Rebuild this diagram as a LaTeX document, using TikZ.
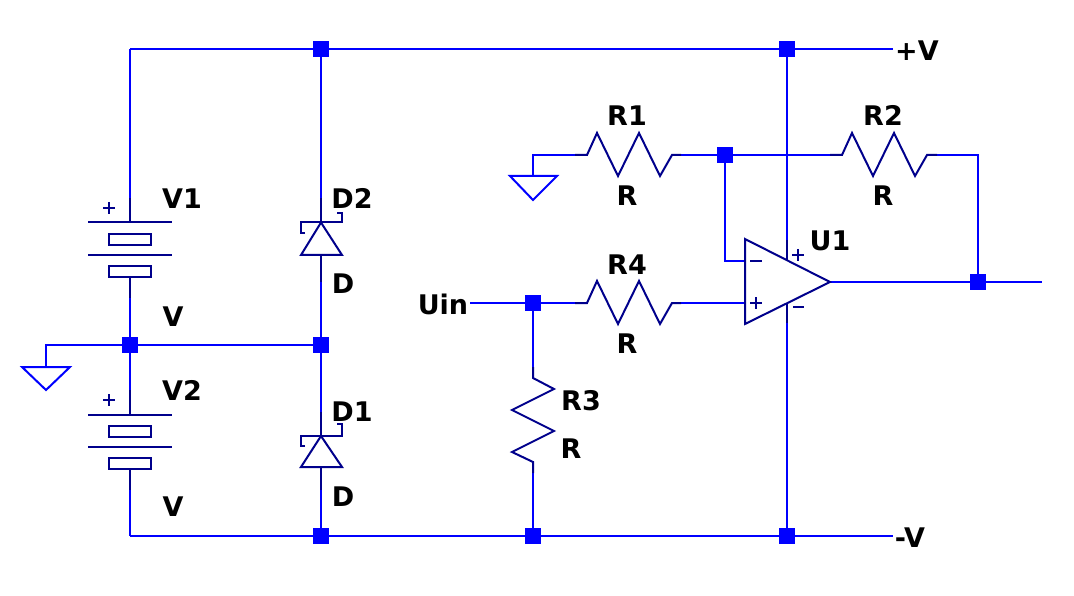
\documentclass[tikz,border=0pt]{standalone}
\usepackage{fontspec}
\setmainfont{DejaVu Sans}
\definecolor{wireblue}{RGB}{0,0,255}
\definecolor{partnavy}{RGB}{0,0,140}
\tikzset{
  wire/.style={draw=wireblue,line width=2pt,line cap=butt,line join=miter},
  part/.style={draw=partnavy,line width=2pt,line join=miter,line cap=butt},
  thin part/.style={draw=partnavy,line width=1.6pt},
  junction/.style={fill=wireblue,draw=none,minimum size=16pt,inner sep=0pt,outer sep=0pt,rectangle},
  lbl/.style={font=\bfseries\fontsize{27}{27}\selectfont,text=black,inner sep=0pt,text height=20pt,text depth=0pt}
}
\begin{document}
\begin{tikzpicture}[x=1pt,y=-1pt]
\useasboundingbox (0,0) rectangle (1074,596);
\fill[white] (0,0) rectangle (1074,596);
% junctions
\node[junction] (J1) at (321,49) {};
\node[junction] (J2) at (787,49) {};
\node[junction] (J3) at (130,345) {};
\node[junction] (J4) at (321,345) {};
\node[junction] (J5) at (533,303) {};
\node[junction] (J6) at (725,155) {};
\node[junction] (J7) at (978,282) {};
\node[junction] (J8) at (321,536) {};
\node[junction] (J9) at (533,536) {};
\node[junction] (J10) at (787,536) {};
% free ends and corners
\coordinate (TL) at (130,49);
\coordinate (BL) at (130,536);
\coordinate (VP) at (893,49);
\coordinate (VM) at (893,536);
\coordinate (OUT) at (1042,282);
\coordinate (UI) at (470,303);
\coordinate (G1) at (46,367);
\coordinate (G2) at (533,176);
\coordinate (V1t) at (130,198);
\coordinate (V1b) at (130,298);
\coordinate (V2t) at (130,390);
\coordinate (V2b) at (130,490);
\coordinate (D2t) at (321,198);
\coordinate (D2b) at (321,282);
\coordinate (D1t) at (321,412);
\coordinate (D1b) at (321,490);
\coordinate (R1l) at (575,155);
\coordinate (R1r) at (681,155);
\coordinate (R2l) at (830,155);
\coordinate (R2r) at (937,155);
\coordinate (R4l) at (575,303);
\coordinate (R4r) at (681,303);
\coordinate (R3t) at (533,367);
\coordinate (R3b) at (533,473);
\coordinate (Um) at (745,261);
\coordinate (Up) at (745,303);
\coordinate (Ut) at (787,240);
\coordinate (Ub) at (787,323);
\coordinate (Uo) at (830,282);
% wires
\draw[wire] (TL) -- (VP);
\draw[wire] (BL) -- (VM);
\draw[wire] (V1t) -- (TL);
\draw[wire] (J3) -- (V1b);
\draw[wire] (J3) -- (V2t);
\draw[wire] (V2b) -- (BL);
\draw[wire] (J3) -- (J4);
\draw[wire] (J3) -| (G1);
\draw[wire] (J1) -- (D2t);
\draw[wire] (D2b) -- (J4);
\draw[wire] (J4) -- (D1t);
\draw[wire] (D1b) -- (J8);
\draw[wire] (J2) -- (Ut);
\draw[wire] (Ub) -- (J10);
\draw[wire] (UI) -- (J5);
\draw[wire] (J5) -- (R4l);
\draw[wire] (R4r) -- (Up);
\draw[wire] (J5) -- (R3t);
\draw[wire] (R3b) -- (J9);
\draw[wire] (G2) |- (R1l);
\draw[wire] (R1r) -- (J6);
\draw[wire] (J6) -- (R2l);
\draw[wire] (R2r) -| (J7);
\draw[wire] (J6) |- (Um);
\draw[wire] (Uo) -- (OUT);
% grounds
\draw[wire] (22,367) -- (70,367) -- (46,390) -- cycle;
\draw[wire] (510,176) -- (557,176) -- (533,200) -- cycle;
% batteries
\foreach \dy in {0,192}{
  \begin{scope}[yshift=-\dy pt]
  \draw[part] (130,198) -- (130,222.5);
  \draw[part] (88,222.5) -- (172,222.5);
  \draw[part] (109,234) rectangle (151,245);
  \draw[part] (88,255) -- (172,255);
  \draw[part] (109,266) rectangle (151,277);
  \draw[part] (130,277) -- (130,298);
  \draw[thin part] (103,208) -- (115,208) (109,202) -- (109,214);
  \end{scope}
}
% diodes
\draw[part] (321,198) -- (321,222.5);
\draw[part] (305,233) -- (301,233) -- (301,222.5) -- (342,222.5) -- (342,213) -- (337,213);
\draw[part] (321,222.5) -- (342,255) -- (301,255) -- cycle;
\draw[part] (321,255) -- (321,282);
\draw[part] (321,412) -- (321,436);
\draw[part] (305,446) -- (301,446) -- (301,436) -- (342,436) -- (342,424) -- (337,424);
\draw[part] (321,436) -- (342,467) -- (301,467) -- cycle;
\draw[part] (321,467) -- (321,490);
% horizontal resistors
\draw[part] (R1l) -- (587,155) -- (597,133) -- (618,176) -- (639,133) -- (660,176) -- (672,155) -- (R1r);
\draw[part] (R2l) -- (842,155) -- (852,133) -- (873,176) -- (894,133) -- (915,176) -- (927,155) -- (R2r);
\draw[part] (R4l) -- (587,303) -- (597,281) -- (618,324) -- (639,281) -- (660,324) -- (672,303) -- (R4r);
% vertical resistor
\draw[part] (R3t) -- (533,378) -- (554,389) -- (512,410) -- (554,431) -- (512,452) -- (533,462) -- (R3b);
% op amp
\draw[part] (745,239) -- (830,282) -- (745,324) -- cycle;
\draw[part] (Ut) -- (787,260);
\draw[part] (Ub) -- (787,303);
\draw[thin part] (750,261) -- (762,261) (750,303) -- (762,303) (756,297) -- (756,309);
\draw[thin part] (792,255) -- (804,255) (798,249) -- (798,261) (793,307) -- (804,307);
% labels
\node[lbl] (tV1) at (182,199) {V1};
\node[lbl] (tV1v) at (173,316) {V};
\node[lbl] (tV2) at (182,390) {V2};
\node[lbl] (tV2v) at (173,506) {V};
\node[lbl] (tD2) at (352,199) {D2};
\node[lbl] (tD2v) at (343,284) {D};
\node[lbl] (tD1) at (352,411) {D1};
\node[lbl] (tD1v) at (343,496) {D};
\node[lbl] (tR1) at (627,116) {R1};
\node[lbl] (tR1v) at (627,196) {R};
\node[lbl] (tR2) at (883,116) {R2};
\node[lbl] (tR2v) at (883,196) {R};
\node[lbl] (tR4) at (627,264) {R4};
\node[lbl] (tR4v) at (627,343) {R};
\node[lbl] (tR3) at (581,400) {R3};
\node[lbl] (tR3v) at (571,448) {R};
\node[lbl] (tU1) at (830,241) {U1};
\node[lbl] (tVP) at (917,51) {+V};
\node[lbl] (tVM) at (910,537) {-V};
\node[lbl] (tUi) at (443,304) {Uin};
\end{tikzpicture}
\end{document}
